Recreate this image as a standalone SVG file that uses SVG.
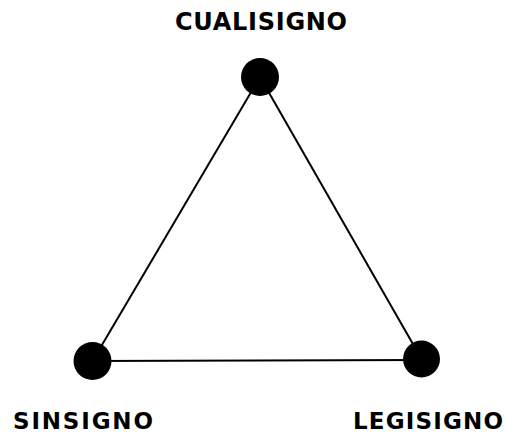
<svg xmlns="http://www.w3.org/2000/svg" width="507" height="435" viewBox="0 0 507 435">
<style>
.lbl{font-family:"DejaVu Sans","Liberation Sans",Arial,sans-serif;font-weight:bold;font-size:24px;fill:#000}
.lbl.b{font-size:23px}
.node{fill:#000}
.edge{stroke:#000;stroke-width:2;fill:none}
</style>
<rect width="507" height="435" fill="#fff"/>
<g id="connectors">
<line class="edge" x1="260" y1="77" x2="92.5" y2="361"/>
<line class="edge" x1="260" y1="77" x2="421.5" y2="359"/>
<line class="edge" x1="92.5" y1="361" x2="421.5" y2="360"/>
</g>
<g id="cualisigno">
<circle class="node" cx="260" cy="77" r="19"/>
<text class="lbl" x="175" y="30" textLength="172" lengthAdjust="spacing">CUALISIGNO</text>
</g>
<g id="sinsigno">
<circle class="node" cx="92.5" cy="361" r="19"/>
<text class="lbl b" x="13" y="429" textLength="140" lengthAdjust="spacing">SINSIGNO</text>
</g>
<g id="legisigno">
<circle class="node" cx="421.5" cy="359" r="18.5"/>
<text class="lbl b" x="353" y="429" textLength="150" lengthAdjust="spacing">LEGISIGNO</text>
</g>
</svg>
